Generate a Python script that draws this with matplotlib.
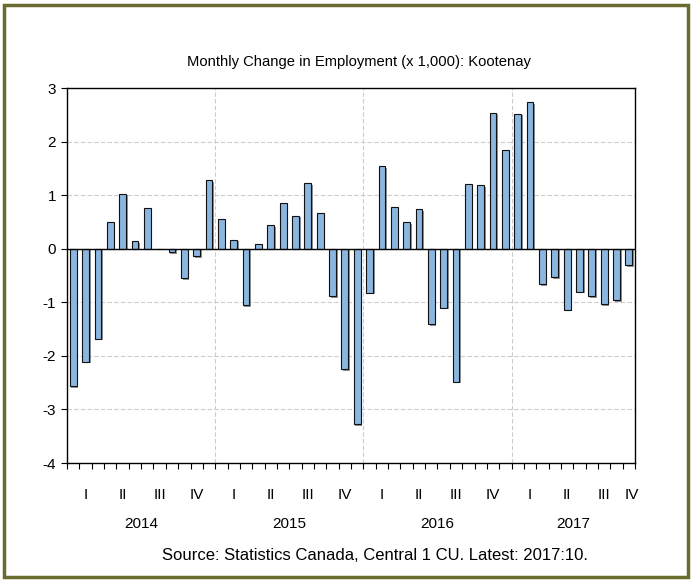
import matplotlib
matplotlib.use("Agg")
import matplotlib.pyplot as plt
import matplotlib.patheffects as pe
import numpy as np

plt.rcParams['font.family'] = ['Liberation Sans', 'DejaVu Sans']

title = "Monthly Change in Employment (x 1,000): Kootenay"
source = "Source: Statistics Canada, Central 1 CU. Latest: 2017:10."
years = ["2014", "2015", "2016", "2017"]
quarters = ["I", "II", "III", "IV"]
yticks = [3, 2, 1, 0, -1, -2, -3, -4]
values = [
    -2.56, -2.11, -1.68, 0.50, 1.03, 0.14, 0.76, 0.00, -0.06, -0.55, -0.14, 1.28,
    0.55, 0.17, -1.05, 0.09, 0.44, 0.86, 0.62, 1.22, 0.66, -0.89, -2.25, -3.28,
    -0.82, 1.54, 0.78, 0.50, 0.74, -1.41, -1.10, -2.48, 1.21, 1.19, 2.54, 1.85,
    2.52, 2.74, -0.66, -0.53, -1.14, -0.80, -0.88, -1.03, -0.96, -0.31,
]

n = len(values)
fig = plt.figure(figsize=(6.91, 5.81), dpi=100)
ax = fig.add_axes([0.097, 0.203, 0.9190 - 0.097, 0.8485 - 0.203])

x = np.arange(n) + 0.5
bars = ax.bar(x, values, width=0.55, color='#8ab6e0', edgecolor='#111111',
              linewidth=0.8, zorder=3)
for b in bars:
    b.set_path_effects([pe.SimplePatchShadow(offset=(1.2, -1.2), shadow_rgbFace='#777777', alpha=0.8), pe.Normal()])

ax.set_xlim(0, n)
ax.set_ylim(-4, 3)
ax.axhline(0, color='black', linewidth=1.0, zorder=4)

for yv in yticks:
    if yv not in (0, 3, -4):
        ax.axhline(yv, color='#cccccc', linestyle=(0, (4, 2)), linewidth=0.8, zorder=1)
for k in range(1, len(years)):
    ax.axvline(12 * k, color='#cccccc', linestyle=(0, (4, 2)), linewidth=0.8, zorder=1)

ax.set_yticks(yticks)
ax.set_yticklabels([str(v) for v in yticks], fontsize=11)
ax.tick_params(axis='y', direction='out', length=4, width=0.8, pad=4)

# month ticks
ax.set_xticks(np.arange(0, n + 1))
ax.set_xticklabels([])
ax.tick_params(axis='x', which='major', direction='out', length=4, width=0.8)

for spine in ax.spines.values():
    spine.set_linewidth(1.0)

trans = ax.get_xaxis_transform()
for i in range(0, n, 3):
    q = (i // 3) % 4
    end = min(i + 3, n)
    ax.text((i + end) / 2 + (0.2 if end - i < 3 else 0), -0.085, quarters[q], transform=trans,
            ha='center', va='center', fontsize=11)
for k, yr in enumerate(years):
    end = min(12 * (k + 1), n)
    ax.text((12 * k + end) / 2, -0.163, yr, transform=trans,
            ha='center', va='center', fontsize=11)

fig.text(0.519, 1 - 62 / 581, title, ha='center', va='center', fontsize=10.6)
fig.text(0.543, 1 - 556 / 581, source, ha='center', va='center', fontsize=12)

border = plt.Rectangle((3.5 / 691, 4 / 581), (687.5 - 3.5) / 691, (576.5 - 4) / 581,
                       transform=fig.transFigure, fill=False, edgecolor='#6b6b30', linewidth=2.5)
fig.patches.append(border)

fig.savefig("out.png", dpi=100)
